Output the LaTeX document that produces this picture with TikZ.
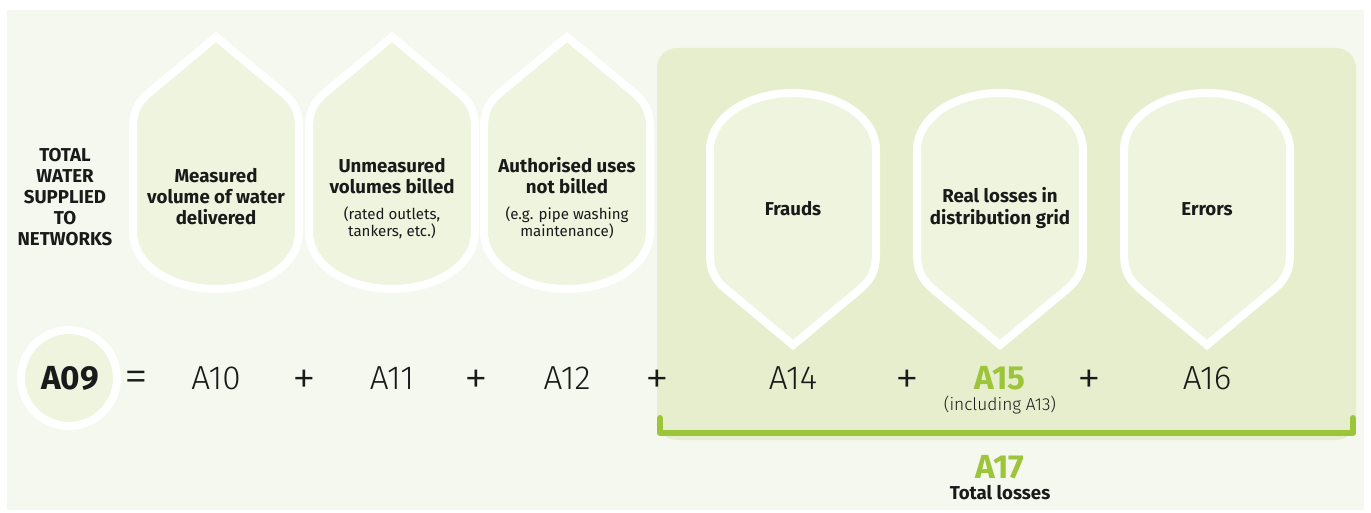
\documentclass[tikz,border=0pt]{standalone}
\usepackage{fontspec}
\setmainfont{Fira Sans}
\newfontfamily\lightfont{Fira Sans Light}
\definecolor{panelc}{HTML}{F5F8EE}
\definecolor{boxc}{HTML}{E6EECE}
\definecolor{dropc}{HTML}{EEF4DE}
\definecolor{greenc}{HTML}{9DC53A}
\definecolor{inkc}{HTML}{1A1A1A}
\begin{document}
\begin{tikzpicture}[x=0.75pt,y=-0.75pt,
  drop/.pic={\draw[white, line width=6pt, fill=dropc]
    (0,0) -- (66,55) .. controls (83,69) and (83,81) .. (83,95) -- (83,195)
    .. controls (83,227) and (46,252) .. (0,252)
    .. controls (-46,252) and (-83,227) .. (-83,195) -- (-83,95)
    .. controls (-83,81) and (-83,69) .. (-66,55) -- cycle;},
  lbl/.style={text=inkc, align=center, font=\bfseries\fontsize{14}{15.8}\selectfont, inner sep=0pt},
  sml/.style={text=inkc, align=center, font=\fontsize{11.3}{12.8}\selectfont, inner sep=0pt},
  big/.style={text=inkc, anchor=base, font=\lightfont\fontsize{25}{28}\selectfont, inner sep=0pt},
  bigb/.style={anchor=base, font=\bfseries\fontsize{25}{28}\selectfont, inner sep=0pt},
  op/.style={text=inkc, anchor=center, font=\lightfont\fontsize{36}{40}\selectfont, inner sep=0pt},
]
\useasboundingbox (0,0) rectangle (1371,513);
\fill[white] (0,0) rectangle (1371,513);
\fill[panelc] (7,10) rectangle (1364,510);
\fill[boxc, rounded corners=15pt] (657,48) rectangle (1356,440);

% upward drops
\pic at (216,37) {drop};
\pic at (392,37) {drop};
\pic at (567,37) {drop};
% downward drops
\pic[yscale=-1] at (793,345) {drop};
\pic[yscale=-1] at (1000,345) {drop};
\pic[yscale=-1] at (1207,345) {drop};

% texts
\node[lbl] (total) at (65,197) {TOTAL\\WATER\\SUPPLIED\\TO\\NETWORKS};
\node[lbl] (d1) at (216,197) {Measured\\volume of water\\delivered};
\node[lbl] (d2) at (392,176) {Unmeasured\\volumes billed};
\node[sml] (d2s) at (392,223) {(rated outlets,\\tankers, etc.)};
\node[lbl] (d3) at (567,176) {Authorised uses\\not billed};
\node[sml] (d3s) at (567,223) {(e.g. pipe washing\\maintenance)};
\node[lbl] (d4) at (793,209) {Frauds};
\node[lbl] (d5) at (1000,208) {Real losses in\\distribution grid};
\node[lbl] (d6) at (1207,209) {Errors};

% A09 circle
\draw[white, line width=6pt, fill=dropc] (69,378) circle[radius=48];
\node[bigb, text=inkc] (a09) at (70,389) {A09};
\node[op] (eq) at (136,382) {=};
\node[big] (a10) at (216,389) {A10};
\node[op] (p1) at (304,382) {+};
\node[big] (a11) at (392,389) {A11};
\node[op] (p2) at (476,382) {+};
\node[big] (a12) at (567,389) {A12};
\node[op] (p3) at (657,382) {+};
\node[big] (a14) at (793,389) {A14};
\node[op] (p4) at (907,382) {+};
\node[bigb, text=greenc] (a15) at (1000,389) {A15};
\node[op] (p5) at (1089,382) {+};
\node[big] (a16) at (1207,389) {A16};
\node[sml, font=\lightfont\fontsize{13}{14}\selectfont] (incl) at (1000,405) {(including A13)};

% bracket
\coordinate (bl) at (660,418);
\coordinate (br) at (1353,418);
\draw[greenc, line width=4.5pt, line cap=round, line join=round] (bl) -- (660,433) -- (1353,433) -- (br);
\node[bigb, text=greenc] (a17) at (1000,478) {A17};
\node[lbl] (tl) at (1000,493) {Total losses};
\end{tikzpicture}
\end{document}
